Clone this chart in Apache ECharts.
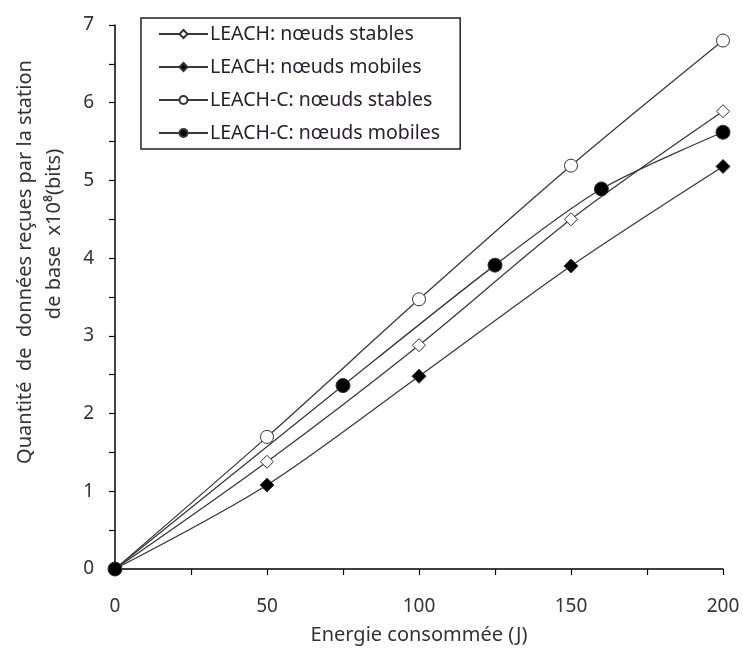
<!DOCTYPE html>
<html>
<head>
<meta charset="utf-8">
<script src="https://cdn.jsdelivr.net/npm/echarts@6/dist/echarts.min.js"></script>
<style>
  html, body { margin: 0; padding: 0; background: #fff; }
  #chart { width: 743px; height: 654px; }
</style>
</head>
<body>
<div id="chart"></div>
<script>
// ---- data
var leachStable = [[0, 0], [50, 1.38], [100, 2.88], [150, 4.5], [200, 5.89]];
var leachMobile = [[0, 0], [50, 1.08], [100, 2.48], [150, 3.9], [200, 5.18]];
var leachCStable = [[0, 0], [50, 1.7], [100, 3.47], [150, 5.19], [200, 6.8]];
var leachCMobile = [[0, 0], [75, 2.36], [125, 3.91], [160, 4.89], [200, 5.62]];

var names = [
    'LEACH: nœuds stables',
    'LEACH: nœuds mobiles',
    'LEACH-C: nœuds stables',
    'LEACH-C: nœuds mobiles'
];

var font = 'Noto Sans';
var txt = '#333';

function serie(name, data, symbol, size, filled) {
    return {
        name: name,
        type: 'line',
        data: data,
        smooth: 0.3,
        symbol: symbol,
        symbolSize: size,
        showSymbol: true,
        lineStyle: { color: '#3a3a3a', width: 1.3 },
        itemStyle: {
            color: filled ? '#000' : '#fff',
            borderColor: '#333',
            borderWidth: 1
        },
        emphasis: { disabled: true }
    };
}

var chart = echarts.init(document.getElementById('chart'));
var option = {
    animation: false,
    textStyle: { fontFamily: font },
    grid: { left: 115, right: 20, top: 25, bottom: 85 },
    legend: {
        orient: 'vertical',
        left: 141,
        top: 18,
        data: names,
        padding: [6, 20, 6, 17],
        itemGap: 13,
        itemWidth: 49,
        itemHeight: 10,
        borderColor: '#222',
        borderWidth: 1.5,
        textStyle: { fontFamily: font, fontSize: 19.5, color: '#2a2030', padding: [0, 0, 0, -3] }
    },
    xAxis: {
        type: 'value',
        min: 0,
        max: 200,
        interval: 50,
        splitLine: { show: false },
        axisLine: { lineStyle: { color: '#000', width: 1.5 } },
        axisTick: { show: true, inside: false, length: 6, lineStyle: { color: '#000', width: 1.2 } },
        minorTick: { show: true, splitNumber: 2, length: 6, lineStyle: { color: '#000', width: 1.2 } },
        axisLabel: { fontFamily: font, fontSize: 19, color: txt, margin: 28 },
        name: 'Energie consommée (J)',
        nameLocation: 'middle',
        nameGap: 56,
        nameTextStyle: { fontFamily: font, fontSize: 20, color: txt }
    },
    yAxis: {
        type: 'value',
        min: 0,
        max: 7,
        interval: 1,
        splitLine: { show: false },
        axisLine: { show: true, lineStyle: { color: '#000', width: 1.5 } },
        axisTick: { show: true, inside: false, length: 6, lineStyle: { color: '#000', width: 1.2 } },
        minorTick: { show: true, splitNumber: 2, length: 6, lineStyle: { color: '#000', width: 1.2 } },
        axisLabel: { fontFamily: font, fontSize: 19, color: txt, margin: 21 }
    },
    graphic: [
        {
            type: 'text',
            x: 25, y: 262,
            rotation: Math.PI / 2,
            style: {
                text: 'Quantité  de  données reçues par la station',
                font: '20px "Noto Sans"',
                fill: txt,
                align: 'center',
                verticalAlign: 'middle'
            }
        },
        {
            type: 'text',
            x: 54, y: 234,
            rotation: Math.PI / 2,
            style: {
                text: 'de base  x10⁸(bits)',
                font: '20px "Noto Sans"',
                fill: txt,
                align: 'center',
                verticalAlign: 'middle'
            }
        }
    ],
    series: [
        serie(names[0], leachStable, 'diamond', 13, false),
        serie(names[1], leachMobile, 'diamond', 14, true),
        serie(names[2], leachCStable, 'circle', 13, false),
        serie(names[3], leachCMobile, 'circle', 14, true)
    ]
};
chart.setOption(option);
</script>
</body>
</html>
